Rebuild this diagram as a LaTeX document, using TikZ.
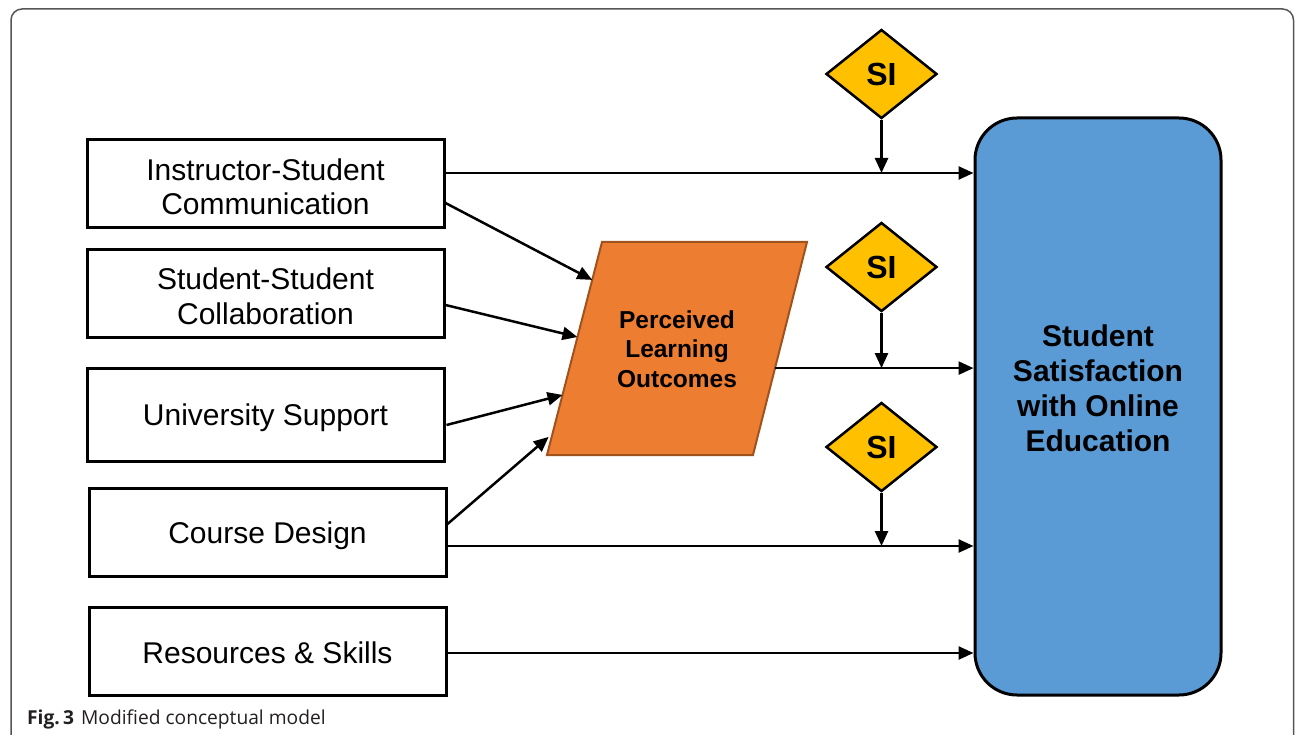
\documentclass[tikz,border=0pt]{standalone}
\usepackage{fontspec}
\setmainfont{Liberation Sans}
\newfontfamily\capfont{Open Sans}
\usetikzlibrary{shapes.geometric,arrows.meta,calc}
\definecolor{orangefill}{HTML}{ED7D31}
\definecolor{orangeedge}{HTML}{A0521E}
\definecolor{bluefill}{HTML}{5B9BD5}
\definecolor{goldfill}{HTML}{FFC000}
\definecolor{framegray}{HTML}{555555}
\definecolor{captext}{HTML}{231F20}
\begin{document}
\begin{tikzpicture}[x=1pt,y=-1pt,
  inbox/.style={draw=black, line width=3pt, fill=white, minimum width=357pt, inner sep=0pt},
  boxtext/.style={align=center, font=\fontsize{30}{34.5}\selectfont, inner sep=0pt},
  arr/.style={line width=2.5pt, -{Triangle[length=15pt,width=13pt]}},
  sidia/.style={diamond, draw=black, line width=2.5pt, fill=goldfill,
    minimum width=111pt, minimum height=89pt, aspect=1.25, inner sep=0pt,
    font=\bfseries\fontsize{32}{32}\selectfont}]
\useasboundingbox (0,0) rectangle (1295,735);
\begin{scope}
  \clip (0,0) rectangle (1295,735);
  \draw[framegray, line width=1.5pt, rounded corners=11pt] (11,9) rectangle (1293.5,770);
\end{scope}

% input boxes
\node[inbox, minimum height=88pt] (b1) at (265.5,184) {};
\node[inbox, minimum height=87pt] (b2) at (265.5,293.5) {};
\node[inbox, minimum height=93pt] (b3) at (265.5,414.5) {};
\node[inbox, minimum height=88pt] (b4) at (267.5,532) {};
\node[inbox, minimum height=88pt] (b5) at (267.5,651) {};
\node[boxtext] (b1t) at ([yshift=-3pt]b1.center) {Instructor-Student\\Communication};
\node[boxtext] (b2t) at ([yshift=-3pt]b2.center) {Student-Student\\Collaboration};
\node[boxtext] (b3t) at ([yshift=-3.5pt]b3.center) {University Support};
\node[boxtext] (b4t) at ([yshift=-3.5pt]b4.center) {Course Design};
\node[boxtext] (b5t) at ([yshift=-2pt]b5.center) {Resources \& Skills};

% perceived learning outcomes (parallelogram)
\draw[fill=orangefill, draw=orangeedge, line width=2pt]
  (547,455) coordinate (pbl) -- (602,242) coordinate (ptl) --
  (807,242) coordinate (ptr) -- (753,455) coordinate (pbr) -- cycle;
\node[font=\bfseries\fontsize{24.5}{29.5}\selectfont, align=center] (plo) at (677,349)
  {Perceived\\Learning\\Outcomes};

% outcome box
\node[draw=black, line width=3pt, fill=bluefill, rounded corners=42pt,
  minimum width=246pt, minimum height=577pt] (sat) at (1098,406.5) {};
\node[font=\bfseries\fontsize{30}{35}\selectfont, align=center] (sattext) at (1098,388.5)
  {Student\\Satisfaction\\with Online\\Education};

% SI diamonds
\node[sidia] (si1) at (881.5,74) {SI};
\node[sidia] (si2) at (881.5,267) {SI};
\node[sidia] (si3) at (881.5,447) {SI};

% coordinates
\coordinate (b1r) at ([yshift=11pt]b1.east);
\coordinate (b1d) at ([yshift=-19pt]b1.east);
\coordinate (b2r) at ([yshift=-11.5pt]b2.east);
\coordinate (b3r) at ([yshift=-10.5pt,xshift=1pt]b3.east);
\coordinate (b4u) at ([yshift=8pt]b4.east);
\coordinate (b4r) at ([yshift=-14pt]b4.east);
\coordinate (b5r) at ([yshift=-2pt]b5.east);
\coordinate (pin1) at ($(pbl)!0.822!(ptl)$);
\coordinate (pin2) at ($(pbl)!0.554!(ptl)$);
\coordinate (pin3) at ($(pbl)!0.282!(ptl)$);
\coordinate (pin4) at ($(pbl)!0.085!(ptl)+(-3,0)$);
\coordinate (pout) at ($(pbr)!0.408!(ptr)$);

% connectors
\draw[arr] (b1r) -- (b1r -| sat.west);
\draw[arr] (b1d) -- (pin1);
\draw[arr] (b2r) -- (pin2);
\draw[arr] (b3r) -- (pin3);
\draw[arr] (b4u) -- (pin4);
\draw[arr] (pout) -- (pout -| sat.west);
\draw[arr] (b4r) -- (b4r -| sat.west);
\draw[arr] (b5r) -- (b5r -| sat.west);
\draw[arr] (si1.south) -- (si1.south |- b1r);
\draw[arr] (si2.south) -- (si2.south |- pout);
\draw[arr] (si3.south) -- (si3.south |- b4r);

% caption
\node[anchor=base west, inner sep=0pt, text=captext, font=\capfont\fontsize{19.2}{22}\selectfont] (cap) at (27,724)
  {\textbf{Fig.\,3}\hspace{7pt}Modified conceptual model};
\end{tikzpicture}
\end{document}
